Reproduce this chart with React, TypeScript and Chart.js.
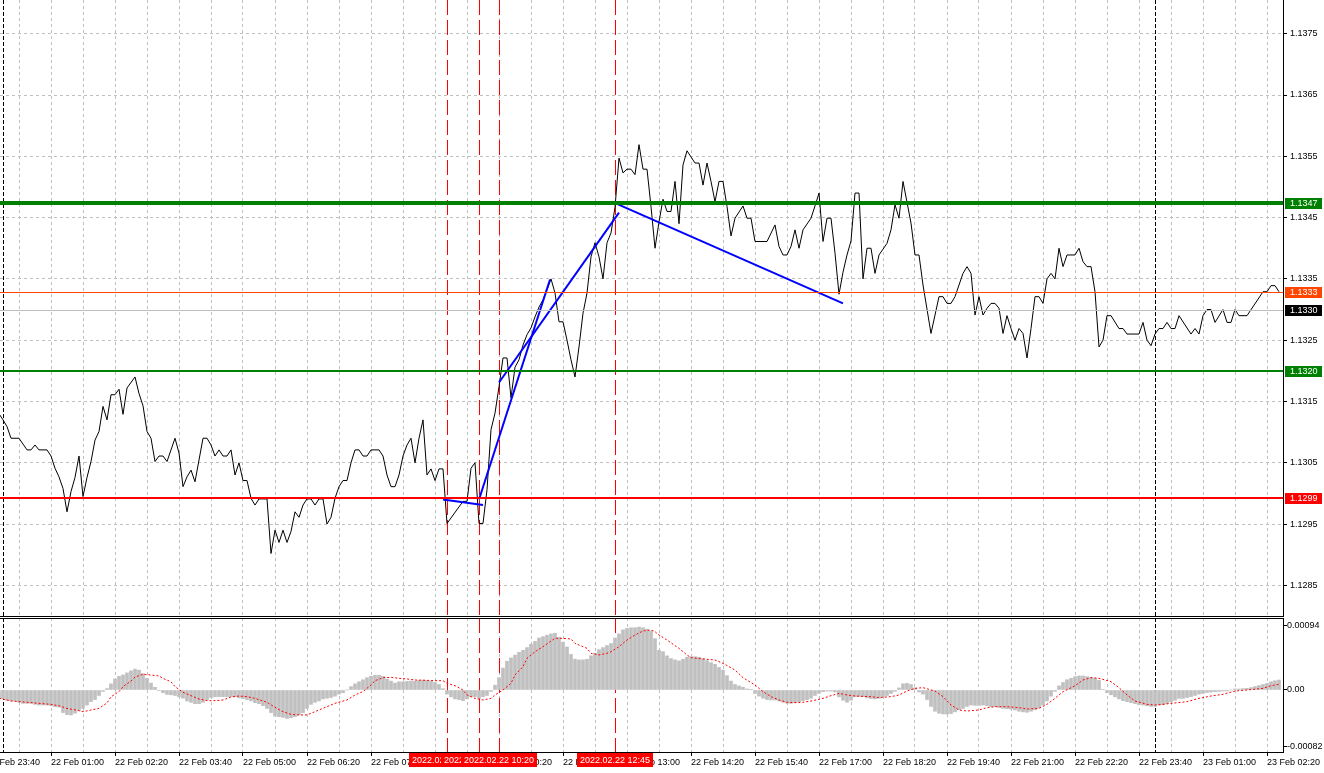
import React, { useEffect, useRef } from 'react';
import { Chart, registerables } from 'chart.js';

Chart.register(...registerables);

const FONT = "'Liberation Sans', Arial, sans-serif";
const GRID = '#c0c0c0';

// x axis unit: 5-minute bar index counted from 22 Feb 2022 00:00
const xMin = -0.75;
const xMax = 320;
const labelBars = [-4, 12, 28, 44, 60, 76, 92, 108, 124, 140, 156, 172, 188, 204, 220, 236, 252, 268, 284, 300, 316];
const gridBars: number[] = [];
for (let b = -4; b <= 316; b += 8) gridBars.push(b);

const daySeparatorBars = [0, 288];
const markerBars = [111, 119, 124, 153];

// price panel
const priceMin = 1.128;
const priceMax = 1.13805;
const priceTicks = [1.1285, 1.1295, 1.1305, 1.1315, 1.1325, 1.1335, 1.1345, 1.1355, 1.1365, 1.1375];

// [bar, close]
const priceCloses: [number, number][] = [
  [-1, 1.1313], [0, 1.1312], [1, 1.13109], [2, 1.1309], [4, 1.1309], [6, 1.13071], [7, 1.13071], [8, 1.13079], [9, 1.13071], [11, 1.13071],
  [12, 1.13061], [13, 1.13041], [14, 1.13027], [15, 1.13008], [16, 1.1297], [17, 1.13003], [18, 1.13026], [19, 1.13061], [20, 1.12995], [21, 1.13026],
  [22, 1.13052], [23, 1.13087], [24, 1.13101], [25, 1.13142], [26, 1.1312], [27, 1.13161], [28, 1.13161], [29, 1.1317], [30, 1.13129], [31, 1.13172],
  [33, 1.1319], [34, 1.13163], [35, 1.13143], [36, 1.13101], [37, 1.1309], [38, 1.13052], [39, 1.13061], [40, 1.13061], [41, 1.13052], [43, 1.1309],
  [44, 1.13066], [45, 1.13011], [46, 1.13027], [47, 1.13038], [48, 1.13019], [50, 1.1309], [51, 1.1309], [52, 1.13079], [53, 1.13061], [54, 1.13071],
  [55, 1.13061], [56, 1.13061], [57, 1.13071], [58, 1.1303], [59, 1.1305], [60, 1.13021], [61, 1.13021], [62, 1.12992], [63, 1.12981], [64, 1.12991],
  [66, 1.12991], [67, 1.12902], [68, 1.1294], [69, 1.1292], [70, 1.1294], [71, 1.1292], [72, 1.12938], [73, 1.1297], [74, 1.12961], [75, 1.12981],
  [76, 1.12991], [77, 1.12991], [78, 1.12981], [79, 1.12991], [80, 1.12991], [81, 1.1295], [82, 1.12961], [83, 1.12992], [84, 1.13011], [85, 1.13021],
  [86, 1.13021], [87, 1.1305], [88, 1.13071], [89, 1.13071], [90, 1.13061], [91, 1.13061], [92, 1.13071], [94, 1.13071], [95, 1.13061], [96, 1.1303],
  [97, 1.13011], [98, 1.13011], [99, 1.1303], [100, 1.13061], [101, 1.13079], [102, 1.1309], [103, 1.1305], [104, 1.1309], [105, 1.1312], [106, 1.1303],
  [107, 1.1304], [108, 1.13021], [109, 1.1304], [110, 1.1304], [111, 1.12951], [115, 1.12987], [116, 1.12987], [117, 1.13041], [118, 1.1305], [119, 1.12951],
  [120, 1.12951], [121, 1.13006], [122, 1.13104], [123, 1.13131], [124, 1.13174], [125, 1.13221], [126, 1.13221], [127, 1.13156], [128, 1.13206], [129, 1.13218],
  [130, 1.13242], [131, 1.13259], [132, 1.1327], [133, 1.13288], [134, 1.13304], [135, 1.13316], [136, 1.13332], [137, 1.1335], [138, 1.13327], [139, 1.1328],
  [140, 1.1328], [141, 1.1325], [142, 1.13218], [143, 1.1319], [144, 1.13239], [145, 1.13294], [146, 1.13327], [147, 1.13386], [148, 1.13409], [149, 1.13386],
  [150, 1.1335], [151, 1.13409], [152, 1.13425], [153, 1.13467], [154, 1.13547], [155, 1.13523], [156, 1.13529], [157, 1.13529], [158, 1.1352], [159, 1.13569],
  [160, 1.13529], [161, 1.13529], [162, 1.13468], [163, 1.134], [164, 1.13443], [165, 1.1348], [166, 1.1346], [167, 1.1346], [168, 1.13509], [169, 1.1344],
  [170, 1.13536], [171, 1.13559], [172, 1.13549], [173, 1.13539], [174, 1.13539], [175, 1.13503], [176, 1.13539], [177, 1.13509], [178, 1.13476], [179, 1.13509],
  [180, 1.13509], [181, 1.13468], [182, 1.1342], [183, 1.13449], [185, 1.13469], [186, 1.13449], [187, 1.13449], [188, 1.13411], [191, 1.13411], [193, 1.13438],
  [194, 1.13403], [195, 1.13389], [196, 1.13389], [197, 1.13403], [198, 1.1343], [199, 1.134], [200, 1.1343], [202, 1.13449], [203, 1.13469], [204, 1.1349],
  [205, 1.13411], [206, 1.13449], [207, 1.13449], [208, 1.13392], [209, 1.13325], [210, 1.13361], [211, 1.13389], [212, 1.13412], [213, 1.1349], [214, 1.1349],
  [215, 1.1335], [216, 1.134], [217, 1.134], [218, 1.13359], [219, 1.13389], [221, 1.13408], [222, 1.1343], [223, 1.13471], [224, 1.13449], [225, 1.13509],
  [227, 1.13441], [228, 1.13389], [229, 1.13389], [230, 1.1334], [232, 1.13261], [233, 1.13291], [234, 1.13321], [235, 1.13321], [236, 1.1331], [237, 1.1331],
  [238, 1.13321], [239, 1.1334], [240, 1.13359], [241, 1.1337], [242, 1.13359], [243, 1.13291], [244, 1.13321], [245, 1.13291], [246, 1.13302], [247, 1.1331],
  [248, 1.1331], [249, 1.13302], [250, 1.13261], [251, 1.1329], [252, 1.13269], [253, 1.1325], [254, 1.13269], [255, 1.13261], [256, 1.13221], [257, 1.13269],
  [258, 1.13321], [259, 1.13321], [260, 1.1331], [261, 1.1335], [262, 1.13359], [263, 1.1335], [264, 1.134], [265, 1.1337], [266, 1.13389], [268, 1.13389],
  [269, 1.134], [270, 1.13378], [271, 1.1337], [272, 1.1337], [273, 1.13329], [274, 1.13239], [275, 1.1325], [276, 1.1329], [277, 1.1329], [279, 1.13269],
  [280, 1.13269], [281, 1.1326], [284, 1.1326], [285, 1.13279], [286, 1.1325], [287, 1.13241], [288, 1.1326], [289, 1.13269], [290, 1.13269], [291, 1.13279],
  [292, 1.13269], [293, 1.13269], [294, 1.1329], [297, 1.1326], [298, 1.13269], [299, 1.1326], [300, 1.1329], [301, 1.133], [302, 1.133], [303, 1.13279],
  [305, 1.133], [306, 1.13279], [307, 1.13279], [308, 1.133], [309, 1.1329], [311, 1.1329], [315, 1.13329], [316, 1.13329], [317, 1.13339], [318, 1.13339],
  [319, 1.13329],
];

// horizontal levels
const levelValues = [1.13474, 1.13329, 1.133, 1.13199, 1.12993];
const levelColors = ['#008000', '#ff4500', '#c0c0c0', '#008000', '#ff0000'];
const levelBoxColors = ['#008000', '#ff4500', '#000000', '#008000', '#ff0000'];
const levelWidths = [4, 1, 1, 2, 2];

// blue trend lines: [bar1, price1, bar2, price2]
const trendLines: [number, number, number, number][] = [
  [110, 1.1299, 120, 1.12981],
  [119, 1.1299, 136.75, 1.13349],
  [124, 1.13181, 154, 1.13458],
  [152.2, 1.13476, 210, 1.1331],
];

// MACD panel (values in points of 0.00001)
const macdMin = -0.00090643;
const macdMax = 0.0010526;
const macdTicks = [-0.00082, 0, 0.00094];
const macdTickLabels = ['-0.00082', '0.00', '0.00094'];
const histStartBar = -1;
const macdHist = [
  -12,
  -13, -15, -16, -16, -18, -19.5, -19.5, -19.5, -21, -22,
  -22, -22, -23, -24.5, -25, -33, -36, -36.5, -34, -30,
  -27, -22, -17, -14, -8, -2, 2, 9, 16, 20,
  22, 25, 28, 30.5, 29, 24, 17, 10, 4, -1,
  -4, -6.5, -7, -8, -10, -12, -16, -18, -20, -20,
  -18, -14, -11, -10, -9.7, -9.7, -9.7, -9.7, -10, -11.5,
  -12.5, -14, -16, -18.5, -20, -23, -27, -33, -38, -39,
  -40, -41.5, -40.5, -39, -36.5, -33, -27, -21, -18, -16,
  -13, -12, -11, -9, -6, -4, 0, 5, 9, 12,
  15, 18, 20, 21.5, 21.5, 20, 16, 13, 10, 12,
  12, 12.5, 13, 13, 14, 14.5, 14, 13, 11, 8,
  2, -6, -10, -13, -14, -15.5, -13, -9.7, -9.7, -12,
  -10, -8, -2, 7, 18, 32, 42, 47, 51, 55,
  58, 62, 67, 71, 76, 78, 80, 82, 83, 77,
  70, 63, 52, 45, 44, 44, 45, 50, 54, 59,
  62, 65, 68, 76, 82, 88, 90, 91, 91, 92,
  91, 89, 86, 75, 58, 56, 50, 46, 44, 42.5,
  45, 48, 48.7, 48.7, 48, 46, 43, 40, 37.5, 33,
  29, 21, 13, 8, 6, 4, 1.5, 0.5, -5, -9,
  -12, -14, -14.6, -14.6, -16, -18, -19.5, -19.5, -18.5, -17,
  -15.5, -14, -12, -8, -5, -2.4, -1.5, -1.5, -3, -10,
  -15, -18, -15, -10, -9.7, -9.7, -11.5, -12.5, -13, -12,
  -10, -8, -5, -2, 3, 9, 9.7, 8, 3, -3,
  -6, -14, -24, -31, -34, -35, -35, -34.5, -32, -29,
  -27, -24, -22, -22.5, -22.5, -22, -23, -24.4, -24.4, -25.5,
  -26.8, -27.5, -28, -29.2, -31, -32, -32.6, -31, -29, -26,
  -22, -16, -9, -2, 6, 11, 15, 17, 19.5, 20.5,
  20.5, 19.5, 18.5, 17, 14, 1, -4, -7, -10, -13,
  -15.5, -17, -18.5, -20, -21.5, -22, -23, -24, -24, -22,
  -21.5, -20, -17, -15, -12.2, -12.2, -11, -9.7, -8, -6,
  -5, -3.6, -3, -2.4, -2, -1.5, -1.5, 0, 1.5, 1.5,
  2, 2.4, 3.5, 5, 6.5, 8, 9.7, 12, 13.5, 14.6,
];
// signal line vertices [bar, points]
const macdSignal: [number, number][] = [
  [-1, -12], [2, -16], [6, -18], [9, -19.5], [12, -21], [14, -23], [16, -27], [18, -29], [20, -31.7], [22, -29.2],
  [24, -26.8], [26, -19], [27, -10], [29, -2.4], [30, 4.9], [32, 13], [33, 19], [35, 22.9], [37, 21.9], [39, 20.5],
  [40, 17], [42, 12], [43, 5], [45, -3.4], [47, -8.3], [49, -13.2], [51, -15.6], [53, -15.6], [55, -14.6], [57, -10.2],
  [59, -8.8], [61, -9.7], [63, -12.2], [66, -18], [68, -25.3], [70, -31.7], [72, -35.6], [74, -36.5], [76, -36.5], [77, -34.1],
  [79, -29.2], [81, -24.4], [83, -19.5], [86, -14.6], [88, -7.3], [90, -2.4], [92, 7.3], [93, 13.6], [95, 18], [97, 18.5],
  [99, 17.1], [101, 16.1], [103, 14.6], [106, 14.1], [108, 13.6], [110, 13.6], [111, 9.7], [113, 6.3], [115, 0], [116, -7.3],
  [118, -12.2], [120, -14.6], [122, -12.2], [123, -7.3], [125, 0], [127, 9.7], [128, 21.9], [130, 34.1], [131, 46.3], [133, 56],
  [135, 63.3], [137, 71.6], [138, 75.5], [140, 75.5], [142, 74.6], [143, 68.2], [146, 60.9], [147, 53.6], [149, 51.2], [151, 53.6],
  [152, 56], [154, 63.3], [156, 73.1], [158, 80.4], [160, 86.3], [162, 87.7], [163, 85.3], [164, 80.4], [166, 73.1], [169, 60.9],
  [171, 51.2], [172, 47.3], [175, 45.3], [178, 43.9], [180, 39], [183, 29.2], [185, 18], [188, 7.3], [190, -2.4], [192, -9.7],
  [194, -14.6], [196, -18], [198, -18.5], [200, -18], [202, -16.1], [205, -12.2], [207, -8.3], [209, -4.9], [211, -7.3], [213, -8.8],
  [215, -9.3], [217, -9.7], [219, -11.2], [222, -9.7], [224, -7.3], [226, -1.5], [228, 2.4], [230, 3.4], [233, -1.5], [235, -9.7],
  [237, -21.9], [239, -29.2], [241, -30.7], [244, -29.2], [246, -25.8], [248, -24.4], [251, -24.4], [254, -25.8], [256, -27.8], [259, -26.8],
  [261, -21], [263, -12.2], [265, -2.4], [268, 6.3], [270, 14.6], [272, 18], [274, 17.1], [277, 12.2], [279, 3.4], [281, -7.3],
  [283, -16.1], [286, -21], [288, -21.9], [290, -21], [292, -19.5], [296, -17.1], [299, -12.2], [302, -8.8], [305, -6.3], [308, -1.5],
  [311, 0], [315, 2.4], [317, 6.3], [319, 8.3],
];

const pad2 = (n: number) => (n < 10 ? '0' : '') + n;
const barTime = (b: number) => {
  const m = b * 5;
  const day = 22 + Math.floor(m / 1440);
  const mm = ((m % 1440) + 1440) % 1440;
  return { day, time: pad2(Math.floor(mm / 60)) + ':' + pad2(mm % 60) };
};
const axisLabel = (b: number) => {
  const t = barTime(b);
  return t.day + ' Feb ' + t.time;
};
const markerLabel = (b: number) => {
  const t = barTime(b);
  return '2022.02.' + t.day + ' ' + t.time;
};

const drawVerticals = (chart: any, bottomExtra: number) => {
  const { ctx, chartArea: a, scales } = chart;
  const x = scales.x;
  ctx.save();
  ctx.lineWidth = 1;
  ctx.strokeStyle = '#000000';
  ctx.setLineDash([4, 2]);
  for (const b of daySeparatorBars) {
    const px = Math.round(x.getPixelForValue(b)) + 0.5;
    ctx.beginPath();
    ctx.moveTo(px, a.top);
    ctx.lineTo(px, a.bottom);
    ctx.stroke();
  }
  ctx.strokeStyle = '#ff0000';
  ctx.setLineDash([15, 5]);
  for (const b of markerBars) {
    const px = Math.round(x.getPixelForValue(b)) + 0.5;
    ctx.beginPath();
    ctx.moveTo(px, a.top);
    ctx.lineTo(px, a.bottom + bottomExtra);
    ctx.stroke();
  }
  ctx.restore();
};

const mainDeco = {
  id: 'mainDeco',
  beforeDatasetsDraw(chart: any) {
    drawVerticals(chart, 0);
  },
  afterDatasetsDraw(chart: any) {
    const { ctx, chartArea: a, scales } = chart;
    const y = scales.y;
    ctx.save();
    levelValues.forEach((v, i) => {
      const py = Math.round(y.getPixelForValue(v));
      const w = levelWidths[i];
      ctx.fillStyle = levelColors[i];
      ctx.fillRect(a.left, py - Math.floor(w / 2), a.right - a.left, w);
    });
    ctx.restore();
  },
  afterDraw(chart: any) {
    const { ctx, chartArea: a, scales } = chart;
    const y = scales.y;
    ctx.save();
    ctx.fillStyle = '#000';
    ctx.fillRect(a.right, 0, 1, a.bottom + 1);
    ctx.fillRect(0, a.bottom, a.right + 1, 1);
    ctx.font = '9px ' + FONT;
    ctx.textBaseline = 'middle';
    ctx.textAlign = 'left';
    levelValues.forEach((v, i) => {
      const py = Math.round(y.getPixelForValue(v));
      ctx.fillStyle = levelBoxColors[i];
      ctx.fillRect(a.right + 2, py - 5, 37, 11);
      ctx.fillStyle = '#ffffff';
      ctx.fillText(v.toFixed(4), a.right + 7, py + 0.5);
    });
    ctx.restore();
  },
};

const macdDeco = {
  id: 'macdDeco',
  beforeDatasetsDraw(chart: any) {
    drawVerticals(chart, 1);
  },
  afterDraw(chart: any) {
    const { ctx, chartArea: a, scales } = chart;
    const x = scales.x;
    ctx.save();
    ctx.fillStyle = '#000';
    ctx.fillRect(0, a.top, a.right + 1, 1);
    ctx.fillRect(0, a.bottom, a.right + 1, 1);
    ctx.fillRect(a.right, a.top, 1, a.bottom - a.top + 1);
    ctx.font = '9px ' + FONT;
    ctx.textBaseline = 'middle';
    ctx.textAlign = 'center';
    for (const b of markerBars) {
      const px = Math.round(x.getPixelForValue(b));
      const text = markerLabel(b);
      const w = Math.round(ctx.measureText(text).width) + 6;
      ctx.fillStyle = '#ff0000';
      ctx.fillRect(px - Math.round(w / 2), a.bottom + 1, w, 14);
      ctx.fillStyle = '#ffffff';
      ctx.fillText(text, px, a.bottom + 8.5);
    }
    ctx.restore();
  },
};

const labelSet = new Set(labelBars);
const xTicksSetter = (s: any) => {
  s.ticks = gridBars.map((v) => ({ value: v }));
};
const zeroPad = (s: any) => {
  s.paddingTop = 0;
  s.paddingBottom = 0;
  s.paddingLeft = 0;
  s.paddingRight = 0;
};

const makeMainConfig = () => ({
  type: 'line',
  data: {
    datasets: [
      ...trendLines.map((t) => ({
        data: [
          { x: t[0], y: t[1] },
          { x: t[2], y: t[3] },
        ],
        borderColor: '#0000ff',
        borderWidth: 2,
        pointRadius: 0,
        order: 0,
      })),
      {
        data: priceCloses.map((p) => ({ x: p[0], y: p[1] })),
        borderColor: '#000000',
        borderWidth: 1,
        pointRadius: 0,
        tension: 0,
        order: 5,
      },
    ],
  },
  options: {
    animation: false,
    responsive: false,
    devicePixelRatio: 1,
    events: [],
    layout: { padding: { top: 0, bottom: 1, left: 0, right: 0 } },
    plugins: { legend: { display: false }, tooltip: { enabled: false } },
    scales: {
      x: {
        type: 'linear',
        min: xMin,
        max: xMax,
        afterBuildTicks: xTicksSetter,
        ticks: { display: false },
        grid: { color: GRID, drawTicks: false, lineWidth: 1 },
        border: { display: false, dash: [3, 3] },
        afterFit: (s: any) => {
          s.height = 0;
          zeroPad(s);
        },
      },
      y: {
        type: 'linear',
        position: 'right',
        min: priceMin,
        max: priceMax,
        afterBuildTicks: (s: any) => {
          s.ticks = priceTicks.map((v) => ({ value: v }));
        },
        ticks: {
          callback: (v: any) => Number(v).toFixed(4),
          font: { family: FONT, size: 9 },
          color: '#000000',
          padding: 3,
        },
        grid: { color: GRID, tickColor: '#000000', tickLength: 4, lineWidth: 1 },
        border: { display: false, dash: [3, 3] },
        afterFit: (s: any) => {
          s.width = 41;
          zeroPad(s);
        },
      },
    },
  },
  plugins: [mainDeco],
});

const makeMacdConfig = () => ({
  type: 'bar',
  data: {
    datasets: [
      {
        type: 'line',
        data: macdSignal.map((p) => ({ x: p[0], y: p[1] / 1e5 })),
        borderColor: '#ff0000',
        borderWidth: 1,
        borderDash: [2, 2],
        pointRadius: 0,
        tension: 0,
        order: 0,
      },
      {
        type: 'bar',
        data: macdHist.map((v, i) => ({ x: histStartBar + i, y: v / 1e5 })),
        backgroundColor: '#c0c0c0',
        barThickness: 3,
        order: 1,
      },
    ],
  },
  options: {
    animation: false,
    responsive: false,
    devicePixelRatio: 1,
    events: [],
    layout: { padding: { top: 1, bottom: 0, left: 0, right: 0 } },
    plugins: { legend: { display: false }, tooltip: { enabled: false } },
    scales: {
      x: {
        type: 'linear',
        offset: false,
        min: xMin,
        max: xMax,
        afterBuildTicks: xTicksSetter,
        ticks: {
          autoSkip: false,
          maxRotation: 0,
          minRotation: 0,
          align: 'start',
          padding: 1,
          color: '#000000',
          font: { family: FONT, size: 9 },
          callback: (v: any) => (labelSet.has(Number(v)) ? axisLabel(Number(v)) : ''),
        },
        grid: {
          offset: false,
          color: GRID,
          lineWidth: 1,
          tickLength: 4,
          tickColor: (c: any) => (c.tick && labelSet.has(c.tick.value) ? '#000000' : 'rgba(0,0,0,0)'),
        },
        border: { display: false, dash: [3, 3] },
        afterFit: (s: any) => {
          s.height = 21;
          zeroPad(s);
        },
      },
      y: {
        type: 'linear',
        position: 'right',
        min: macdMin,
        max: macdMax,
        afterBuildTicks: (s: any) => {
          s.ticks = macdTicks.map((v) => ({ value: v }));
        },
        ticks: {
          callback: (_v: any, i: number) => macdTickLabels[i],
          font: { family: FONT, size: 9 },
          color: '#000000',
          padding: 0,
        },
        grid: { drawOnChartArea: false, tickColor: '#000000', tickLength: 4 },
        border: { display: false },
        afterFit: (s: any) => {
          s.width = 41;
          zeroPad(s);
        },
      },
    },
  },
  plugins: [macdDeco],
});

export default function App() {
  const mainRef = useRef<HTMLCanvasElement>(null);
  const macdRef = useRef<HTMLCanvasElement>(null);

  useEffect(() => {
    document.body.style.margin = '0';
    const c1 = new Chart(mainRef.current as HTMLCanvasElement, makeMainConfig() as any);
    const c2 = new Chart(macdRef.current as HTMLCanvasElement, makeMacdConfig() as any);
    return () => {
      c1.destroy();
      c2.destroy();
    };
  }, []);

  return (
    <div style={{ position: 'relative', width: 1324, height: 773, background: '#ffffff', overflow: 'hidden' }}>
      <canvas ref={mainRef} width={1324} height={617} style={{ position: 'absolute', left: 0, top: 0 }} />
      <canvas ref={macdRef} width={1324} height={156} style={{ position: 'absolute', left: 0, top: 617 }} />
    </div>
  );
}
